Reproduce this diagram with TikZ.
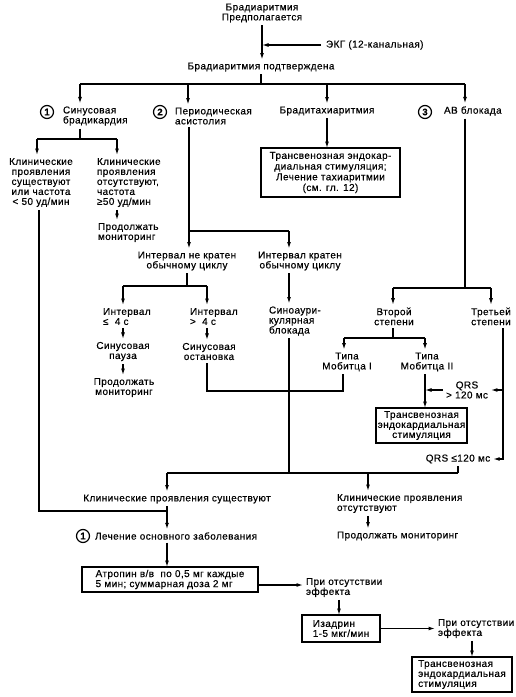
\documentclass[tikz,border=0pt]{standalone}
\usepackage{fontspec}
\setmainfont{Liberation Sans}[LetterSpace=4,FakeBold=0.4]
\usetikzlibrary{arrows.meta}
\newcommand\fs{\fontsize{10}{10}\selectfont}
\begin{document}
\begin{tikzpicture}[x=1pt,y=-1pt,
  ln/.style={line width=1.2pt},
  arr/.style={line width=1.2pt,-{Latex[length=6.5pt,width=4pt]}},
  t/.style={inner sep=0pt, outer sep=3pt, font=\fs, align=center},
  tl/.style={t, align=left},
  bx/.style={draw, line width=1.2pt, inner sep=0pt, outer sep=0pt, font=\fs, align=center},
  num/.style={circle, draw, line width=1.2pt, inner sep=0pt, minimum size=13pt, font=\fontsize{9.5}{9}\selectfont\bfseries}]
\useasboundingbox (0,0) rectangle (515,697);
% nodes
\node[t] (top) at (262,13) {Брадиаритмия\\Предполагается};
\node[t,anchor=west] (ekg) at (323,45) {ЭКГ (12-канальная)};
\node[t] (conf) at (261,67) {Брадиаритмия подтверждена};
\node[num] (n1) at (47,112) {1};
\node[tl,anchor=west] (sin) at (60,116) {Синусовая\\брадикардия};
\node[num] (n2) at (160,112) {2};
\node[tl,anchor=west] (asy) at (172,116) {Периодическая\\асистолия};
\node[t] (tach) at (327,111) {Брадитахиаритмия};
\node[num] (n3) at (425,112) {3};
\node[t,anchor=west] (av) at (441,111) {АВ блокада};
\node[bx,minimum width=139pt,minimum height=49pt,font=\fontsize{10}{10.7}\selectfont] (tbox) at (330.5,172.5) {Трансвенозная эндокар-\\диальная стимуляция;\\Лечение тахиаритмии\\(см. гл. 12)};
\node[t] (sc1) at (41,182.5) {Клинические\\проявления\\существуют\\или частота\\< 50 уд/мин};
\node[tl,anchor=west] (sc2) at (94,182.5) {Клинические\\проявления\\отсутствуют,\\частота\\≥50 уд/мин};
\node[tl,anchor=west] (mon1) at (95,232.5) {Продолжать\\мониторинг};
\node[t] (intN) at (187,261) {Интервал не кратен\\обычному циклу};
\node[t] (intY) at (300,261) {Интервал кратен\\обычному циклу};
\node[tl,anchor=west] (i1) at (100,316.5) {Интервал\\≤ \ 4 с};
\node[tl,anchor=west] (i2) at (187,316.5) {Интервал\\> \ 4 с};
\node[t] (pause) at (123,351.5) {Синусовая\\пауза};
\node[t] (mon2) at (124,387.5) {Продолжать\\мониторинг};
\node[t] (arrest) at (209,351.5) {Синусовая\\остановка};
\node[tl,anchor=west] (sa) at (266,321) {Синоаури-\\кулярная\\блокада};
\node[t] (deg2) at (394,316.5) {Второй\\степени};
\node[t] (deg3) at (491,316.5) {Третьей\\степени};
\node[t] (mob1) at (347,362) {Типа\\Мобитца I};
\node[t] (mob2) at (427,362) {Типа\\Мобитца II};
\node[t] (qrs1) at (467,390) {QRS\\> 120 мс};
\node[bx,minimum width=91pt,minimum height=35pt] (stim) at (421.5,425.5) {Трансвенозная\\эндокардиальная\\стимуляция};
\node[t] (qrs2) at (458,459) {QRS ≤120 мс};
\node[t] (clin1) at (177,499) {Клинические проявления существуют};
\node[tl,anchor=west] (clin2) at (334,503.5) {Клинические проявления\\отсутствуют};
\node[tl,anchor=west] (mon3) at (334,536) {Продолжать мониторинг};
\node[num] (n4) at (83,536) {1};
\node[tl,anchor=west] (treat) at (92,536) {Лечение основного заболевания};
\node[bx,minimum width=176pt,minimum height=25pt,align=left,font=\fontsize{10}{9}\selectfont] (atro) at (170,579.5) {Атропин в/в \ по 0,5 мг каждые\\5 мин; суммарная доза 2 мг};
\node[tl,anchor=west] (ne1) at (303,587.5) {При отсутствии\\эффекта};
\node[bx,minimum width=78pt,minimum height=27pt,align=left] (izad) at (341,628.5) {Изадрин\\1-5 мкг/мин};
\node[tl,anchor=west] (ne2) at (435,628.5) {При отсутствии\\эффекта};
\node[bx,minimum width=100pt,minimum height=35pt,align=left] (fin) at (462,674.5) {Трансвенозная\\эндокардиальная\\стимуляция};
% junctions
\coordinate (b1) at (80,84); \coordinate (b2) at (188,84);
\coordinate (b3) at (327,84); \coordinate (b4) at (465,84);
\coordinate (sL) at (37,139); \coordinate (sR) at (117,139);
\coordinate (lj) at (39,511);
\coordinate (aJ) at (189,231); \coordinate (aR) at (289,231);
\coordinate (iL) at (123,286); \coordinate (iR) at (207,286);
\coordinate (jm) at (343,391);
\coordinate (dL) at (393,288); \coordinate (dR) at (491,288);
\coordinate (mL) at (344,338); \coordinate (mR) at (425,338);
\coordinate (tx) at (503,327);
\coordinate (hL) at (167,473); \coordinate (hR) at (458,473);
\coordinate (c2x) at (368,473);
\coordinate (e1) at (0,585); \coordinate (ix) at (339,0); \coordinate (fx) at (472,0);
% connectors
\draw[arr] (top.south) -- (top.south |- conf.north);
\draw[arr] ([xshift=-2pt]ekg.west) -- (ekg.west -| top.south);
\draw[ln] (conf.south) -- (conf.south |- b1);
\draw[ln] (b1) -- (b4);
\draw[arr] (b1) -- (b1 |- sin.north);
\draw[arr] (b2) -- (b2 |- asy.north);
\draw[arr] (b3) -- (b3 |- tach.north);
\draw[arr] (b4) -- (b4 |- av.north);
\draw[arr] (b3 |- tach.south) -- (tbox.north -| b3);
% sinus
\draw[ln] (b1 |- sin.south) -- (b1 |- sL);
\draw[ln] (sL) -- (sR);
\draw[arr] (sL) -- (sL |- sc1.north);
\draw[arr] (sR) -- (sR |- sc2.north);
\draw[arr] (sR |- sc2.south) -- (sR |- mon1.north);
\draw[ln] (lj |- sc1.south) -- (lj) -- (lj -| hL);
% asystole
\draw[ln] (aJ |- asy.south) -- (aJ) -- (aR);
\draw[arr] (aJ) -- (aJ |- intN.north);
\draw[arr] (aR) -- (aR |- intY.north);
\draw[ln] (intN.south) -- (intN.south |- iL);
\draw[ln] (iL) -- (iR);
\draw[arr] (iL) -- (iL |- i1.north);
\draw[arr] (iR) -- (iR |- i2.north);
\draw[arr] (iL |- i1.south) -- (iL |- pause.north);
\draw[arr] (iL |- pause.south) -- (iL |- mon2.north);
\draw[arr] (iR |- i2.south) -- (iR |- arrest.north);
\draw[ln] (iR |- arrest.south) -- (iR |- jm) -- (jm) -- (jm |- mob1.south);
\draw[arr] (aR |- intY.south) -- (aR |- sa.north);
\draw[ln] (aR |- sa.south) -- (aR |- hL);
% AV block
\draw[ln] (b4 |- av.south) -- (b4 |- dL);
\draw[ln] (dL) -- (dR);
\draw[arr] (dL) -- (dL |- deg2.north);
\draw[arr] (dR) -- (dR |- deg3.north);
\draw[ln] (dL |- deg2.south) -- (dL |- mL);
\draw[ln] (mL) -- (mR);
\draw[arr] (mL) -- (mL |- mob1.north);
\draw[arr] (mR) -- (mR |- mob2.north);
\draw[arr] (mR |- mob2.south) -- (mR |- stim.north);
\draw[arr] (tx |- deg3.south) |- (qrs2.east);
\draw[arr] (tx |- qrs1) -- (qrs1.east);
\draw[arr] (qrs1.west) -- (qrs1.west -| mR);
\draw[ln] (qrs2.south) -- (qrs2.south |- hR);
% bottom
\draw[ln] (hL) -- (hR);
\draw[arr] (hL) -- (hL |- clin1.north);
\draw[arr] (c2x) -- (c2x |- clin2.north);
\draw[arr] (hL |- clin1.south) -- (hL |- treat.north);
\draw[arr] (c2x |- clin2.south) -- (c2x |- mon3.north);
\draw[arr] (hL |- treat.south) -- (hL |- atro.north);
\draw[arr] (atro.east |- e1) -- (ne1.west |- e1);
\draw[arr] (ix |- ne1.south) -- (ix |- izad.north);
\draw[arr] (izad.east) -- (izad.east -| ne2.west);
\draw[arr] (fx |- ne2.south) -- (fx |- fin.north);
\end{tikzpicture}
\end{document}
